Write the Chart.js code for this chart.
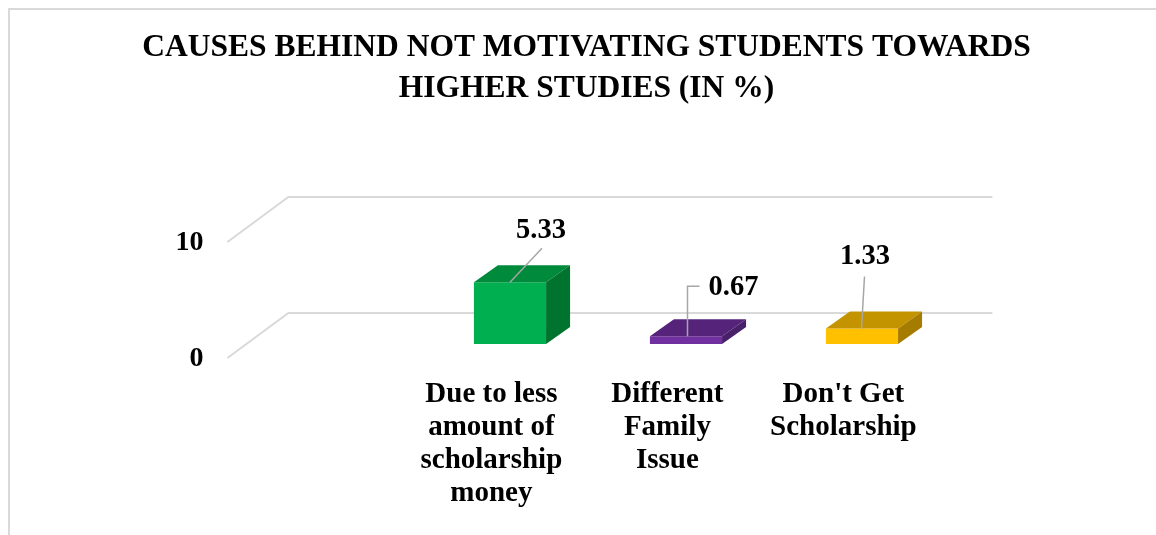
<!DOCTYPE html>
<html>
<head>
<meta charset="utf-8">
<script src="https://cdn.jsdelivr.net/npm/chart.js@4"></script>
<style>
  html, body { margin: 0; padding: 0; background: #fff; overflow: hidden; }
  #frame {
    position: absolute; left: 8px; top: 8px; width: 1300px; height: 700px;
    border: 2px solid #d9d9d9; box-sizing: border-box;
  }
  #wrap { position: absolute; left: 0; top: 0; width: 1156px; height: 535px; }
</style>
</head>
<body>
<div id="frame"></div>
<div id="wrap"><canvas id="chart" width="1156" height="535"></canvas></div>
<script>
// Data
const titleLines = ['CAUSES BEHIND NOT MOTIVATING STUDENTS TOWARDS', 'HIGHER STUDIES (IN %)'];
const categories = [
    ['Due to less', 'amount of', 'scholarship', 'money'],
    ['Different', 'Family', 'Issue'],
    ["Don't Get", 'Scholarship']
];
const values = [5.33, 0.67, 1.33];
const yTicks = [0, 10];

// Colours: front / top / side of each 3D bar
const frontColors = ['#00b050', '#7030a0', '#ffc000'];
const topColors = ['#008a3c', '#55247a', '#c49300'];
const sideColors = ['#00732f', '#48206a', '#a67c00'];

const FONT = "'Liberation Serif', 'Times New Roman', serif";
const GRID = '#d9d9d9';
const LEADER = '#a6a6a6';

// perspective offsets (px)
const FRONT = { dx: 18.6, dy: -14 };   // floor front edge -> bar front plane
const BACK = { dx: 42.4, dy: -31 };    // bar front plane -> back wall
const BAR_DEPTH = { dx: 24, dy: -17 };

// label placement relative to bar top-centre, and leader line points
const labelOffsets = [[31, -52], [47.5, -49], [3, -72]];
const leaders = [
    [[32, -34], [0, 0]],
    [[13.5, -50], [1.5, -50], [1.5, 0]],
    [[2.5, -52], [-0.5, 0]]
];

const depth3d = {
    id: 'depth3d',
    beforeDatasetsDraw(chart) {
        const ctx = chart.ctx;
        const xs = chart.scales.x, ys = chart.scales.y;
        const band = (xs.right - xs.left) / categories.length;
        const frontLeft = xs.left - band - FRONT.dx;
        const backRight = xs.right + BACK.dx;
        ctx.save();

        // title (drawn here so it is centred on the whole canvas)
        ctx.fillStyle = '#000';
        ctx.font = 'bold 31.5px ' + FONT;
        ctx.textAlign = 'center';
        ctx.textBaseline = 'middle';
        titleLines.forEach((t, k) => ctx.fillText(t, 586.5, 48 + k * 40.5));

        ctx.strokeStyle = GRID;
        ctx.lineWidth = 2;
        yTicks.forEach(v => {
            const py = ys.getPixelForValue(v);
            ctx.beginPath();
            ctx.moveTo(frontLeft, py - FRONT.dy);
            ctx.lineTo(frontLeft + FRONT.dx + BACK.dx, py + BACK.dy);
            ctx.lineTo(backRight, py + BACK.dy);
            ctx.stroke();
        });
        // tick labels
        ctx.font = 'bold 28px ' + FONT;
        ctx.textAlign = 'right';
        yTicks.forEach(v => {
            const py = ys.getPixelForValue(v);
            ctx.fillText(String(v), frontLeft - 24, py - FRONT.dy + 1);
        });
        ctx.restore();
    },
    afterDatasetsDraw(chart) {
        const ctx = chart.ctx;
        const meta = chart.getDatasetMeta(0);
        ctx.save();
        meta.data.forEach((bar, i) => {
            const p = bar.getProps(['x', 'y', 'base', 'width'], true);
            const l = p.x - p.width / 2, r = p.x + p.width / 2;
            // top face
            ctx.fillStyle = topColors[i];
            ctx.beginPath();
            ctx.moveTo(l, p.y);
            ctx.lineTo(l + BAR_DEPTH.dx, p.y + BAR_DEPTH.dy);
            ctx.lineTo(r + BAR_DEPTH.dx, p.y + BAR_DEPTH.dy);
            ctx.lineTo(r, p.y);
            ctx.closePath();
            ctx.fill();
            // side face
            ctx.fillStyle = sideColors[i];
            ctx.beginPath();
            ctx.moveTo(r, p.y);
            ctx.lineTo(r + BAR_DEPTH.dx, p.y + BAR_DEPTH.dy);
            ctx.lineTo(r + BAR_DEPTH.dx, p.base + BAR_DEPTH.dy);
            ctx.lineTo(r, p.base);
            ctx.closePath();
            ctx.fill();

            // leader line
            ctx.strokeStyle = LEADER;
            ctx.lineWidth = 1.5;
            ctx.beginPath();
            leaders[i].forEach((pt, k) => {
                const fn = k === 0 ? 'moveTo' : 'lineTo';
                ctx[fn](p.x + pt[0], p.y + pt[1]);
            });
            ctx.stroke();

            // value label
            ctx.fillStyle = '#000';
            ctx.font = 'bold 28.5px ' + FONT;
            ctx.textAlign = 'center';
            ctx.textBaseline = 'middle';
            ctx.fillText(values[i].toFixed(2), p.x + labelOffsets[i][0], p.y + labelOffsets[i][1]);

            // category label, sits on the floor's front edge
            ctx.font = 'bold 29px ' + FONT;
            categories[i].forEach((line, k) => {
                ctx.fillText(line, p.x - FRONT.dx, p.base + 51 + k * 33);
            });
        });
        ctx.restore();
    }
};

new Chart(document.getElementById('chart'), {
    type: 'bar',
    data: {
        labels: categories,
        datasets: [{
            data: values,
            backgroundColor: frontColors,
            borderWidth: 0,
            categoryPercentage: 1,
            barPercentage: 0.41
        }]
    },
    options: {
        responsive: false,
        animation: false,
        layout: { padding: { left: 422, right: 206, top: 228, bottom: 191 } },
        scales: {
            x: { display: false },
            y: { display: false, min: 0, max: 10 }
        },
        plugins: {
            legend: { display: false },
            tooltip: { enabled: false },
            title: { display: false }
        }
    },
    plugins: [depth3d]
});
</script>
</body>
</html>
